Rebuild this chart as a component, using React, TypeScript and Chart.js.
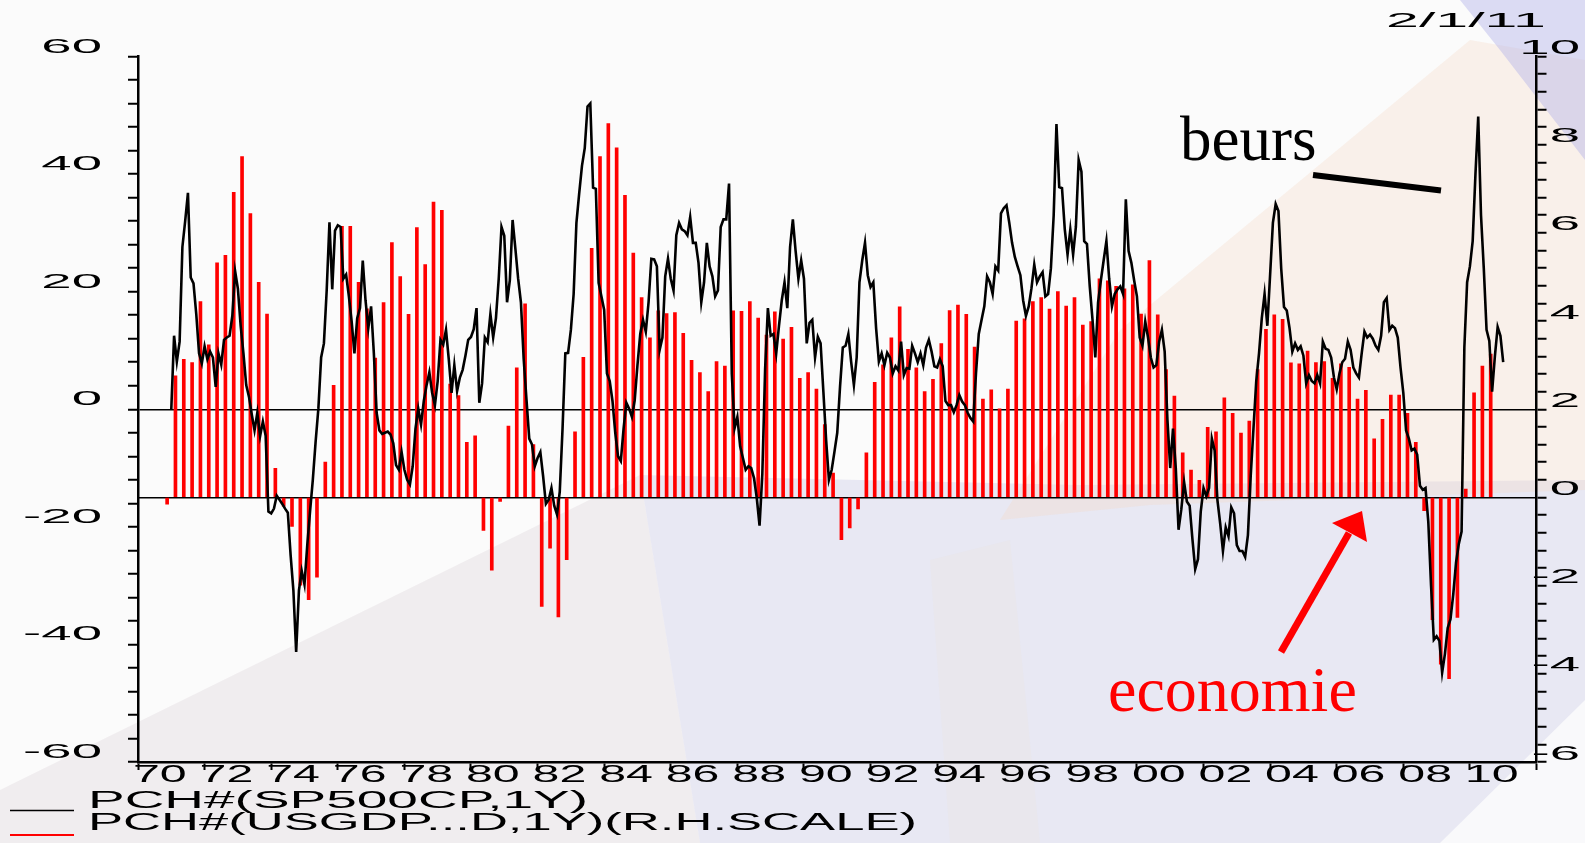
import React, { useEffect, useRef } from 'react';
import { Chart, registerables } from 'chart.js';

Chart.register(...registerables);

// S&P 500: 1-year % change, monthly, first value = Dec 1970 (plotted at 1971.0)
const SP500_FIRST_YEAR = 1971;
const SP500_YOY = [
  0.0, 12.5, 8.1, 11.5, 27.6, 32.0, 36.8, 22.4, 21.4, 16.2, 9.5, 7.8,
  10.7, 8.5, 9.8, 8.8, 3.8, 9.5, 7.6, 11.8, 12.2, 12.5, 15.9, 23.5,
  20.5, 14.2, 9.5, 4.1, 2.1, -0.9, -3.6, -0.6, -4.6, -2.1, -4.5, -17.4,
  -17.7, -16.9, -14.7, -15.4, -16.1, -16.9, -17.6, -24.8, -30.8, -41.3, -30.8, -27.5,
  -29.8, -23.1, -17.4, -12.0, -5.6, 0.1, 8.8, 11.2, 20.2, 31.8, 20.4, 30.4,
  31.3, 31.0, 22.2, 22.9, 19.2, 14.9, 9.5, 15.5, 17.2, 25.3, 18.5, 13.8,
  17.5, 9.5, -0.6, -3.6, -4.2, -4.0, -3.8, -4.3, -5.8, -9.5, -10.3, -7.3,
  -10.3, -12.0, -12.8, -9.7, -3.3, 0.1, -2.6, 1.4, 4.1, 6.3, 2.8, 0.7,
  4.8, 11.8, 11.0, 13.5, 8.5, 2.8, 7.5, 3.1, 5.4, 6.7, 9.1, 11.8,
  12.3, 13.6, 17.2, 1.1, 4.4, 12.2, 11.4, 16.2, 12.2, 15.5, 22.2, 31.0,
  29.5, 18.2, 21.9, 32.2, 27.3, 22.2, 18.2, 8.5, 1.7, -5.0, -6.0, -9.7,
  -8.3, -7.3, -11.4, -16.1, -15.4, -13.4, -16.4, -17.9, -14.0, -3.3, 9.5, 9.6,
  13.5, 19.6, 31.7, 36.7, 41.4, 44.4, 51.5, 52.0, 37.7, 37.5, 21.5, 19.2,
  16.9, 6.1, 4.8, 1.4, -4.0, -8.0, -8.8, -3.3, 1.1, 0.1, -1.3, 1.5,
  7.5, 12.8, 15.2, 13.2, 18.2, 25.6, 25.5, 24.3, 10.1, 12.2, 22.6, 25.6,
  22.2, 20.2, 29.6, 31.7, 30.6, 30.3, 29.6, 32.7, 28.3, 28.3, 24.9, 18.2,
  21.6, 28.3, 24.3, 22.6, 19.2, 20.2, 31.0, 32.3, 32.3, 38.4, 6.0, -3.2,
  -1.3, -6.3, -8.3, -10.3, -9.7, -10.0, -11.7, -15.1, -19.8, -11.0, 6.8, 17.2,
  12.5, 12.8, 9.5, 14.2, 18.5, 21.6, 17.2, 27.6, 32.3, 26.9, 22.2, 25.3,
  22.2, 11.2, 14.7, 15.2, 8.8, 12.3, 11.2, 3.0, -5.3, -12.0, -10.3, -7.2,
  -4.0, 3.8, 10.5, 10.8, 12.8, 8.1, 4.1, 8.8, 21.6, 25.3, 28.3, 22.8,
  20.8, 21.6, 13.8, 8.1, 9.5, 7.5, 9.6, 8.8, 6.1, 7.3, 6.6, 11.5,
  5.8, 7.0, 6.9, 10.8, 9.5, 8.0, 9.5, 7.5, 10.5, 11.8, 9.8, 7.3,
  7.1, 8.5, 7.3, 1.4, 0.7, 0.7, -0.5, 0.7, 2.4, 1.3, 0.7, -0.6,
  -1.5, -2.1, 6.1, 12.8, 15.2, 17.5, 22.6, 21.6, 19.6, 24.3, 23.6, 33.3,
  34.2, 34.7, 31.7, 28.3, 25.9, 24.3, 22.8, 18.5, 15.9, 17.5, 20.6, 24.6,
  21.6, 22.6, 23.3, 19.2, 19.6, 24.0, 33.0, 48.5, 37.8, 37.6, 30.6, 26.3,
  30.6, 26.3, 31.0, 42.4, 40.4, 28.6, 28.1, 20.9, 15.2, 8.8, 18.2, 21.9,
  25.3, 28.6, 22.2, 17.5, 19.6, 20.4, 20.9, 19.6, 35.7, 26.9, 24.9, 21.9,
  19.2, 12.2, 10.8, 14.9, 12.2, 8.8, 7.1, 7.5, 11.5, 13.5, 9.8, -1.9,
  -10.0, -3.3, -10.0, -20.5, -17.0, -12.4, -15.7, -16.4, -22.1, -27.2, -25.5, -17.4,
  -13.4, -14.8, -13.4, -5.0, -7.0, -15.4, -19.4, -24.1, -20.1, -21.6, -16.7, -17.7,
  -23.1, -24.1, -24.1, -25.1, -21.4, -11.4, -3.3, 4.8, 9.5, 15.5, 19.6, 14.2,
  22.9, 31.7, 34.9, 33.7, 23.9, 17.4, 16.8, 13.8, 9.8, 11.2, 10.1, 10.7,
  9.1, 4.4, 5.8, 4.8, 4.4, 5.8, 4.4, 11.5, 10.3, 10.1, 8.8, 5.4,
  3.4, 6.1, 8.0, 8.6, 11.5, 10.1, 7.1, 6.1, 5.4, 9.5, 13.2, 12.2,
  12.7, 12.0, 10.8, 10.1, 12.5, 18.2, 18.9, 13.5, 14.2, 13.8, 12.2, 7.1,
  2.8, -3.6, -5.0, -7.0, -6.7, -7.7, -13.0, -13.7, -13.4, -19.1, -30.0, -39.2,
  -38.6, -39.4, -44.8, -41.6, -37.2, -35.7, -31.5, -26.1, -22.9, -20.8, 10.5, 21.6,
  24.3, 28.6, 40.0, 49.8, 33.0, 24.0, 13.5, 11.6, 3.0, 9.0, 14.0, 12.5,
  8.0,
];

// US GDP: 1-year % change, quarterly, first value = 1970 Q4 (right-hand scale)
const GDP_FIRST_QUARTER = 1970.75;
const GDP_YOY = [
  -0.15,
  2.76, 3.13, 3.06, 4.44,
  3.46, 5.32, 5.49, 6.92,
  7.73, 6.44, 4.88, 4.16,
  0.66, -0.2, -0.66, -1.99,
  -2.32, -1.81, 0.8, 2.54,
  6.15, 6.15, 4.88, 4.28,
  3.16, 4.42, 5.78, 5.01,
  4.15, 6.12, 5.28, 6.7,
  6.51, 2.57, 2.31, 1.25,
  1.4, -0.75, -1.65, -0.09,
  1.62, 2.94, 4.39, 1.2,
  -2.47, -1.15, -2.71, -1.41,
  1.49, 3.18, 5.65, 7.73,
  8.48, 7.93, 6.85, 5.54,
  4.53, 3.62, 4.23, 4.17,
  4.19, 3.72, 3.11, 2.83,
  2.4, 3.08, 2.98, 4.23,
  4.22, 4.44, 4.07, 3.68,
  4.21, 3.59, 3.86, 2.7,
  2.83, 2.46, 1.65, 0.55,
  -0.96, -0.69, -0.26, 1.01,
  2.61, 3.01, 3.62, 4.32,
  3.36, 2.94, 2.4, 2.68,
  3.49, 4.24, 4.36, 4.15,
  3.41, 2.23, 2.44, 2.01,
  2.46, 4.0, 4.05, 4.44,
  4.53, 4.27, 4.67, 4.34,
  4.53, 3.91, 3.99, 4.96,
  4.91, 4.79, 4.73, 4.82,
  4.16, 5.37, 4.14, 2.9,
  2.3, 1.01, 0.62, 0.39,
  1.59, 1.49, 2.26, 1.91,
  1.46, 1.73, 2.9, 3.81,
  4.14, 4.04, 3.05, 3.03,
  3.32, 3.06, 3.08, 2.7,
  3.03, 2.95, 2.23, 2.43,
  1.33, 1.77, 2.32, 2.32,
  1.91, 1.25, -0.3, -2.77,
  -3.78, -4.11, -2.72, 0.19,
  2.37, 2.98, 3.25,
];

const X_TICK_YEARS = [1970, 1972, 1974, 1976, 1978, 1980, 1982, 1984, 1986, 1988, 1990,
  1992, 1994, 1996, 1998, 2000, 2002, 2004, 2006, 2008, 2010];
const X_TICK_LABELS = ['70', '72', '74', '76', '78', '80', '82', '84', '86', '88', '90',
  '92', '94', '96', '98', '00', '02', '04', '06', '08', '10'];
const LEFT_TICK_LABELS = [60, 40, 20, 0, -20, -40, -60];
const RIGHT_TICK_LABELS = [10, 8, 6, 4, 2, 0, -2, -4, -6];
const LEGEND_LABELS = ['PCH#(SP500CP,1Y)', 'PCH#(USGDP...D,1Y)(R.H.SCALE)'];
const DATE_LABEL = '2/1/11';
const NOTE_STOCKS = 'beurs';
const NOTE_ECONOMY = 'economie';

const SANS = '"Liberation Sans", Arial, sans-serif';
const SERIF = '"Liberation Serif", "Times New Roman", serif';

function drawStretched(
  ctx: CanvasRenderingContext2D, text: string, x: number, baseline: number,
  size: number, sx: number, align: 'left' | 'right', color = '#000', fitWidth?: number,
) {
  ctx.save();
  ctx.font = `${size}px ${SANS}`;
  ctx.fillStyle = color;
  ctx.textAlign = 'left';
  ctx.textBaseline = 'alphabetic';
  const raw = ctx.measureText(text).width;
  const s = fitWidth ? fitWidth / raw : sx;
  const w = raw * s;
  const left = align === 'right' ? x - w : x;
  ctx.translate(left, baseline);
  ctx.scale(s, 1);
  ctx.fillText(text, 0, 0);
  ctx.restore();
}

const backgroundPlugin = {
  id: 'bg',
  beforeDraw(chart: any) {
    const ctx = chart.ctx as CanvasRenderingContext2D;
    const W = chart.width;
    const H = chart.height;
    ctx.save();
    ctx.fillStyle = '#fbfbfb';
    ctx.fillRect(0, 0, W, H);
    const poly = (pts: number[][], color: string) => {
      ctx.beginPath();
      ctx.moveTo(pts[0][0], pts[0][1]);
      for (let i = 1; i < pts.length; i++) ctx.lineTo(pts[i][0], pts[i][1]);
      ctx.closePath();
      ctx.fillStyle = color;
      ctx.fill();
    };
    poly([[0, 843], [0, 790], [640, 475], [700, 843]], 'rgba(214,206,212,0.30)');
    poly([[640, 475], [1080, 485], [1585, 480], [1585, 843], [700, 843]], 'rgba(206,206,232,0.40)');
    poly([[930, 560], [1010, 540], [1040, 843], [950, 843]], 'rgba(240,228,210,0.18)');
    poly([[1000, 520], [1120, 330], [1470, 40], [1585, 60], [1585, 490], [1150, 505]], 'rgba(246,214,194,0.30)');
    poly([[1440, 843], [1585, 700], [1585, 843]], 'rgba(252,252,252,0.8)');
    poly([[1460, 0], [1585, 0], [1585, 160], [1500, 50]], 'rgba(180,180,232,0.45)');
    ctx.restore();
  },
};

const labelsPlugin = {
  id: 'labels',
  afterDraw(chart: any) {
    const ctx = chart.ctx as CanvasRenderingContext2D;
    const xs = chart.scales.x;
    const yl = chart.scales.y;
    const yr = chart.scales.y1;

    LEFT_TICK_LABELS.forEach((v) => {
      drawStretched(ctx, String(v), 102, yl.getPixelForValue(v) - 4, 21, 2.6, 'right');
    });
    RIGHT_TICK_LABELS.forEach((v) => {
      drawStretched(ctx, String(v), 1580, yr.getPixelForValue(v) - 2.5, 21, 2.6, 'right');
    });
    X_TICK_LABELS.forEach((t, i) => {
      drawStretched(ctx, t, xs.getPixelForValue(X_TICK_YEARS[i]) - 5, 782, 23, 2.1, 'left');
    });
    drawStretched(ctx, DATE_LABEL, 1386, 27, 20, 2.4, 'left', '#000', 160);

    ctx.save();
    ctx.lineWidth = 1.5;
    ctx.strokeStyle = '#000';
    ctx.beginPath();
    ctx.moveTo(10, 810.5);
    ctx.lineTo(74, 810.5);
    ctx.stroke();
    ctx.strokeStyle = '#ff0000';
    ctx.lineWidth = 2;
    ctx.beginPath();
    ctx.moveTo(10, 835);
    ctx.lineTo(74, 835);
    ctx.stroke();
    ctx.restore();
    drawStretched(ctx, LEGEND_LABELS[0], 88, 808, 23, 2.4, 'left', '#000', 500);
    drawStretched(ctx, LEGEND_LABELS[1], 88, 830, 23, 2.4, 'left', '#000', 829);

    ctx.save();
    ctx.font = `63px ${SERIF}`;
    ctx.fillStyle = '#000';
    ctx.textAlign = 'left';
    ctx.textBaseline = 'alphabetic';
    ctx.fillText(NOTE_STOCKS, 1180, 160);
    ctx.lineWidth = 6;
    ctx.strokeStyle = '#000';
    ctx.lineCap = 'butt';
    ctx.beginPath();
    ctx.moveTo(1313, 175);
    ctx.lineTo(1441, 190.5);
    ctx.stroke();

    ctx.font = `64px ${SERIF}`;
    ctx.fillStyle = '#ff0000';
    ctx.fillText(NOTE_ECONOMY, 1108, 711);

    ctx.strokeStyle = '#ff0000';
    ctx.lineWidth = 7;
    ctx.beginPath();
    ctx.moveTo(1281, 652);
    ctx.lineTo(1349, 533);
    ctx.stroke();
    ctx.beginPath();
    ctx.moveTo(1362, 511);
    ctx.lineTo(1332, 523);
    ctx.lineTo(1367, 542);
    ctx.closePath();
    ctx.fill();
    ctx.restore();
  },
};

export default function App() {
  const canvasRef = useRef<HTMLCanvasElement | null>(null);

  useEffect(() => {
    const canvas = canvasRef.current;
    if (!canvas) return;

    const spPoints = SP500_YOY.map((v, k) => ({ x: SP500_FIRST_YEAR + k / 12, y: v }));
    const gdpPoints = GDP_YOY.map((v, i) => ({ x: GDP_FIRST_QUARTER + i * 0.25 + 0.125, y: v }));

    const zeroOnly = (c: any) => (c.tick && Math.abs(c.tick.value) < 1e-6 ? '#000' : 'rgba(0,0,0,0)');

    const chart = new Chart(canvas, {
      type: 'bar',
      data: {
        datasets: [
          {
            type: 'line',
            label: LEGEND_LABELS[0],
            data: spPoints,
            borderColor: '#000',
            borderWidth: 2.6,
            pointRadius: 0,
            tension: 0,
            fill: false,
            xAxisID: 'x',
            yAxisID: 'y',
            order: 0,
          } as any,
          {
            type: 'bar',
            label: LEGEND_LABELS[1],
            data: gdpPoints,
            backgroundColor: '#ff0000',
            borderWidth: 0,
            barThickness: 3,
            xAxisID: 'x',
            yAxisID: 'y1',
            order: 1,
          } as any,
        ],
      },
      options: {
        responsive: false,
        animation: false,
        devicePixelRatio: 1,
        layout: { padding: { left: 128, right: 38.5, top: 56.5, bottom: 73 } },
        plugins: {
          legend: { display: false },
          tooltip: { enabled: false },
          title: { display: false },
        },
        scales: {
          x: {
            type: 'linear',
            position: 'bottom',
            min: 1970,
            max: 2012,
            offset: false,
            ticks: { display: false, stepSize: 2, autoSkip: false },
            grid: {
              offset: false,
              drawOnChartArea: false,
              drawTicks: true,
              tickLength: 8,
              tickColor: '#000',
              tickWidth: 2,
            },
            border: { display: true, color: '#000', width: 2.5 },
          },
          y: {
            type: 'linear',
            position: 'left',
            min: -60,
            max: 60,
            ticks: { display: false, stepSize: 4, autoSkip: false },
            grid: {
              drawOnChartArea: true,
              color: zeroOnly,
              lineWidth: 1.5,
              drawTicks: true,
              tickLength: 10,
              tickColor: '#000',
              tickWidth: 2,
            },
            border: { display: true, color: '#000', width: 2.5 },
          },
          y1: {
            type: 'linear',
            position: 'right',
            min: -6,
            max: 10,
            ticks: { display: false, stepSize: 0.4, autoSkip: false },
            grid: {
              drawOnChartArea: true,
              color: zeroOnly,
              lineWidth: 1.5,
              drawTicks: true,
              tickLength: 10,
              tickColor: '#000',
              tickWidth: 2,
            },
            border: { display: true, color: '#000', width: 2.5 },
          },
        },
      } as any,
      plugins: [backgroundPlugin, labelsPlugin],
    });

    return () => chart.destroy();
  }, []);

  return (
    <div style={{ position: 'fixed', left: 0, top: 0, width: 1585, height: 843, overflow: 'hidden' }}>
      <canvas ref={canvasRef} width={1585} height={843} style={{ display: 'block', width: 1585, height: 843 }} />
    </div>
  );
}
